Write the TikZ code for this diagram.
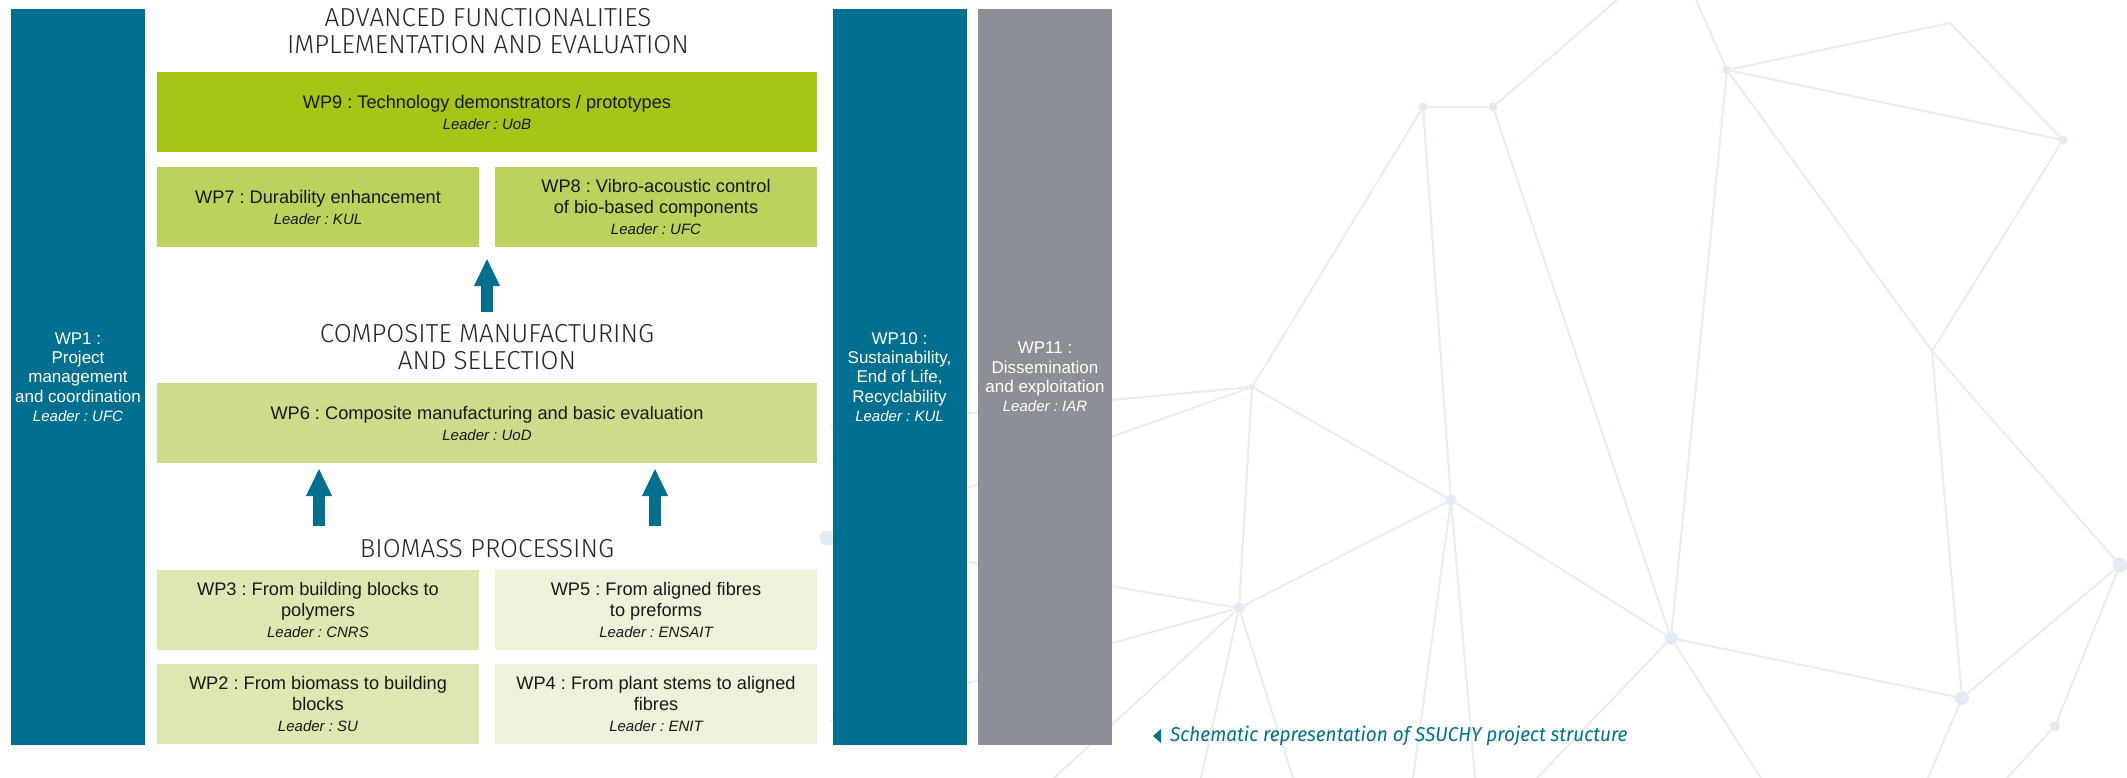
\documentclass[tikz,border=0pt]{standalone}
\usepackage{fontspec}
\setmainfont{Liberation Sans}
\newfontfamily\headfont{Fira Sans Light}
\newfontfamily\capfont[FakeStretch=0.95]{Fira Sans}
\usetikzlibrary{arrows.meta}
\frenchspacing

\definecolor{wpteal}{HTML}{016F8F}
\definecolor{wpgrey}{HTML}{8D8F97}
\definecolor{wpnine}{HTML}{A3C617}
\definecolor{wpseven}{HTML}{B9D35C}
\definecolor{wpsix}{HTML}{CDDC8B}
\definecolor{wpthree}{HTML}{DDE7B1}
\definecolor{wpfive}{HTML}{EDF2DA}
\definecolor{netline}{HTML}{E6EEF5}
\definecolor{netfill}{HTML}{E2EBF3}

\newcommand{\leadline}[1]{{\fontsize{15}{\the\baselineskip}\selectfont\itshape Leader : #1}}

\begin{document}
\begin{tikzpicture}[x = 1pt, y = -1pt,
                      wpbox/.style = {rectangle, inner sep = 0pt, minimum width = 322pt, minimum height = 80pt, align = center, text = black!90, font = \fontsize{18.2}{21}\selectfont},
                      widebox/.style = {wpbox, minimum width = 660pt},
                      sidebar/.style = {rectangle, inner sep = 0pt, minimum width = 134pt, minimum height = 736pt, align = center, text = white, font = \fontsize{17}{19.3}\selectfont},
                      heading/.style = {align = center, inner sep = 0pt, text = black!85, font = \headfont\fontsize{26}{27}\selectfont},
                      bigarrow/.style = {wpteal, line width = 12pt, -{Triangle[width = 24pt, length = 28pt]}},
                      net/.style = {netline, line width = 2pt},
                      netnode/.style = {circle, fill = netfill, inner sep = 0pt, minimum size = 9pt}]
    \useasboundingbox (0, 0) rectangle (2127, 778);

    % background network
    \node [netnode] (n1) at (1423, 107){};
    \node [netnode] (n2) at (1493, 107){};
    \node [netnode] (n3) at (1727, 70){};
    \coordinate (n4) at (1950, 23);
    \node [netnode] (n5) at (2063, 140){};
    \node [netnode, minimum size = 7pt] (n6) at (1252, 387){};
    \node [netnode, minimum size = 11pt] (n7) at (1451, 500){};
    \node [netnode, minimum size = 11pt] (n8) at (1239, 608){};
    \node [netnode, minimum size = 13pt] (n9) at (1671, 638){};
    \coordinate (n10) at (1932, 351);
    \node [netnode, minimum size = 15pt] (n11) at (2120, 565){};
    \node [netnode, minimum size = 14pt] (n12) at (1962, 698){};
    \node [netnode, minimum size = 10pt] (n13) at (2055, 726){};
    \node [netnode, minimum size = 15pt] (n14) at (827, 538){};
    \coordinate (t1) at (1617, 0);
    \coordinate (t2) at (1696, 0);
    \coordinate (l1) at (830, 426);
    \coordinate (l2) at (830, 721);
    \coordinate (b0) at (1054, 778);
    \coordinate (b1) at (1201, 778);
    \coordinate (b2) at (1293, 778);
    \coordinate (b3) at (1413, 778);
    \coordinate (b4) at (1475, 778);
    \coordinate (b5) at (1537, 778);
    \coordinate (b6) at (1761, 778);
    \coordinate (b7) at (1928, 778);
    \coordinate (b8) at (2007, 778);
    \draw [net] (t1) -- (n2) -- (n1) -- (n6) -- (l1);
    \draw [net] (t2) -- (n3) -- (n4) -- (n5) -- (n3);
    \draw [net] (n1) -- (n7);
    \draw [net] (n2) -- (n9);
    \draw [net] (n3) -- (n9);
    \draw [net] (n3) -- (n10) -- (n5);
    \draw [net] (n10) -- (n11);
    \draw [net] (n10) -- (n12);
    \draw [net] (n6) -- (n14);
    \draw [net] (n6) -- (n7);
    \draw [net] (n6) -- (n8);
    \draw [net] (n7) -- (n8);
    \draw [net] (n7) -- (n9);
    \draw [net] (n7) -- (b3);
    \draw [net] (n7) -- (b4);
    \draw [net] (n8) -- (n14);
    \draw [net] (n8) -- (l2);
    \draw [net] (n8) -- (b0);
    \draw [net] (n8) -- (b1);
    \draw [net] (n8) -- (b2);
    \draw [net] (n9) -- (n12);
    \draw [net] (n9) -- (b5);
    \draw [net] (n9) -- (b6);
    \draw [net] (n12) -- (n11);
    \draw [net] (n12) -- (b7);
    \draw [net] (n11) -- (n13);
    \draw [net] (n13) -- (b8);

    % side bars
    \node [sidebar, fill = wpteal] (wp1) at (78, 377){WP1 :\\Project\\management\\and coordination\\\leadline{UFC}};
    \node [sidebar, fill = wpteal] (wp10) at (899.5, 377){WP10 :\\Sustainability,\\End of Life,\\Recyclability\\\leadline{KUL}};
    \node [sidebar, fill = wpgrey] (wp11) at (1045, 377){WP11 :\\Dissemination\\and exploitation\\\leadline{IAR}};

    % work packages
    \node [heading] (advtitle) at (488, 31){ADVANCED FUNCTIONALITIES\\IMPLEMENTATION AND EVALUATION};
    \node [widebox, fill = wpnine] (wp9) at (487, 112){WP9 : Technology demonstrators / prototypes\\\leadline{UoB}};
    \node [wpbox, fill = wpseven] (wp7) at (318, 207){WP7 : Durability enhancement\\\leadline{KUL}};
    \node [wpbox, fill = wpseven] (wp8) at (656, 207){WP8 : Vibro-acoustic control\\of bio-based components\\\leadline{UFC}};

    \node [heading] (cmtitle) at (487, 347){COMPOSITE MANUFACTURING\\AND SELECTION};
    \node [widebox, fill = wpsix] (wp6) at (487, 423){WP6 : Composite manufacturing and basic evaluation\\\leadline{UoD}};

    \node [heading] (bptitle) at (487, 549){BIOMASS PROCESSING};
    \node [wpbox, fill = wpthree] (wp3) at (318, 610){WP3 : From building blocks to\\polymers\\\leadline{CNRS}};
    \node [wpbox, fill = wpfive] (wp5) at (656, 610){WP5 : From aligned fibres\\to preforms\\\leadline{ENSAIT}};
    \node [wpbox, fill = wpthree] (wp2) at (318, 704){WP2 : From biomass to building\\blocks\\\leadline{SU}};
    \node [wpbox, fill = wpfive] (wp4) at (656, 704){WP4 : From plant stems to aligned\\fibres\\\leadline{ENIT}};

    % arrows
    \coordinate (a0) at (487, 312);
    \coordinate (a1) at (319, 526);
    \coordinate (a2) at (655, 526);
    \draw [bigarrow, shorten >= 11pt] (a0) -- (a0 |- wp7.south);
    \draw [bigarrow, shorten >= 5pt] (a1) -- (a1 |- wp6.south);
    \draw [bigarrow, shorten >= 5pt] (a2) -- (a2 |- wp6.south);

    % caption
    \node [anchor = west, inner sep = 0pt, text = wpteal, font = \capfont\itshape\fontsize{20}{22}\selectfont] (caption) at (1170, 736){Schematic representation of SSUCHY project structure};
    \fill [wpteal] ([xshift = -17pt]caption.west) -- ++(8, -7) -- ++(0, 14) -- cycle;
\end{tikzpicture}
\end{document}
